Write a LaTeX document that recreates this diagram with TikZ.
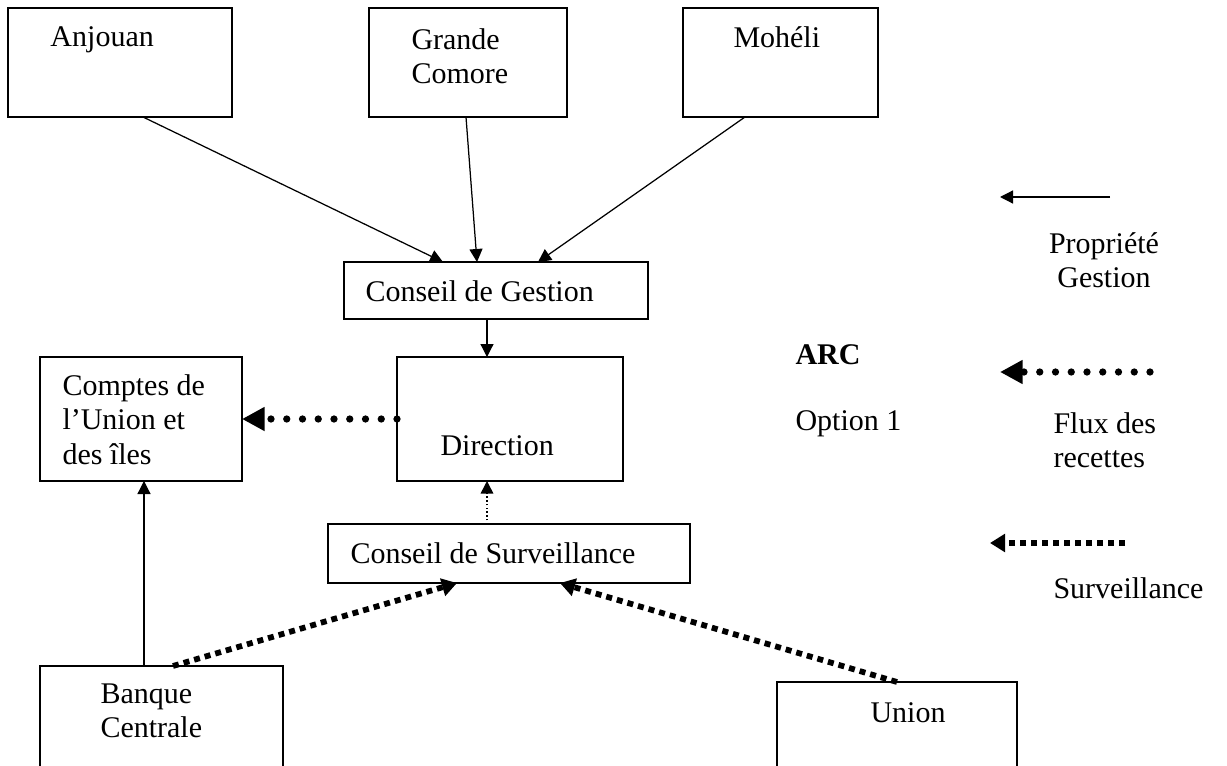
\documentclass[tikz,border=0pt]{standalone}
\usepackage{fontspec}
\setmainfont{Liberation Serif}
\usetikzlibrary{positioning,calc,arrows.meta}

\begin{document}
\begin{tikzpicture}[x=0.4pt, y=-0.4pt,
  box/.style={draw, rectangle, line width=0.5pt, inner sep=0pt, outer sep=0pt, anchor=north west},
  txt/.style={anchor=north west, inner sep=0pt, align=left, font=\fontsize{12}{13.8}\selectfont},
  own/.style={line width=0.5pt, -{Triangle[length=5.2pt,width=5.2pt]}},
  flux/.style={line width=2.9pt, line cap=round, dash pattern=on 0pt off 6.3pt, -{Triangle[length=9pt,width=9pt]}},
  surv/.style={line width=2.3pt, dash pattern=on 2.4pt off 2pt, -{Triangle[length=6pt,width=7pt]}},
  weak/.style={line width=0.6pt, dash pattern=on 0.6pt off 0.9pt, -{Triangle[length=5pt,width=5pt]}}]
  \useasboundingbox (0,0) rectangle (1227,766);

  % Boxes
  \node [box, minimum width=89.6pt, minimum height=43.6pt] (anjouan) at (8,8) {};
  \node [box, minimum width=79.2pt, minimum height=43.6pt] (grande) at (369,8) {};
  \node [box, minimum width=78pt, minimum height=43.6pt] (moheli) at (683,8) {};
  \node [box, minimum width=121.6pt, minimum height=22.8pt] (cgestion) at (344,262) {};
  \node [box, minimum width=90.4pt, minimum height=49.6pt] (direction) at (397,357) {};
  \node [box, minimum width=80.8pt, minimum height=49.6pt] (comptes) at (40,357) {};
  \node [box, minimum width=144.8pt, minimum height=23.6pt] (csurv) at (328,524) {};
  \node [box, minimum width=97.2pt, minimum height=45.6pt] (banque) at (40,666) {};
  \node [box, minimum width=96pt, minimum height=39.2pt] (union) at (777,682) {};

  % Texts
  \node [txt] (t-anjouan) at (50,26) {Anjouan};
  \node [txt] (t-grande) at (411,28) {Grande\\ Comore};
  \node [txt] (t-moheli) at (733,26) {Mohéli};
  \node [txt] (t-cgestion) at (365,280) {Conseil de Gestion};
  \node [txt] (t-comptes) at (62,374) {Comptes de\\l’Union et\\des îles};
  \node [txt] (t-direction) at (440,435) {Direction};
  \node [txt] (t-csurv) at (350,542) {Conseil de Surveillance};
  \node [txt] (t-banque) at (100,683) {Banque\\Centrale};
  \node [txt] (t-union) at (870,702) {Union};
  \node [txt, font=\fontsize{12}{13.8}\selectfont\bfseries] (t-arc) at (795,344) {ARC};
  \node [txt] (t-option) at (795,410) {Option 1};

  % Legend
  \coordinate (k1a) at (1110,197);
  \coordinate (k1b) at (1000,197);
  \coordinate (k2a) at (1150,372);
  \coordinate (k2b) at (1000,372);
  \coordinate (k3a) at (1125,543);
  \coordinate (k3b) at (990,543);
  \draw [own] (k1a) -- (k1b);
  \draw [flux] (k2a) -- (k2b);
  \draw [surv] (k3a) -- (k3b);
  \node [txt, anchor=north, align=center] (t-prop) at (1104,232) {Propriété\\Gestion};
  \node [txt] (t-flux) at (1053,412) {Flux des\\recettes};
  \node [txt] (t-surv) at (1053,577) {Surveillance};

  % Arrows
  \draw [own] ($(anjouan.south west)+(135,0)$) -- ($(cgestion.north west)+(99,0)$);
  \draw [own] ($(grande.south west)+(97,0)$) -- ($(cgestion.north west)+(133,0)$);
  \draw [own] ($(moheli.south west)+(62,0)$) -- ($(cgestion.north west)+(194,0)$);
  \draw [own] ($(cgestion.south west)+(143,0)$) -- ($(direction.north west)+(90,0)$);
  \draw [flux] (direction.west) -- (comptes.east);
  \draw [weak] ($(csurv.north west)+(159,0)$) -- ($(direction.south west)+(90,0)$);
  \draw [own] ($(banque.north west)+(104,0)$) -- ($(comptes.south west)+(104,0)$);
  \draw [surv] ($(banque.north west)+(133,0)$) -- ($(csurv.south west)+(129,0)$);
  \draw [surv] ($(union.north west)+(120,0)$) -- ($(csurv.south west)+(232,0)$);
\end{tikzpicture}
\end{document}
